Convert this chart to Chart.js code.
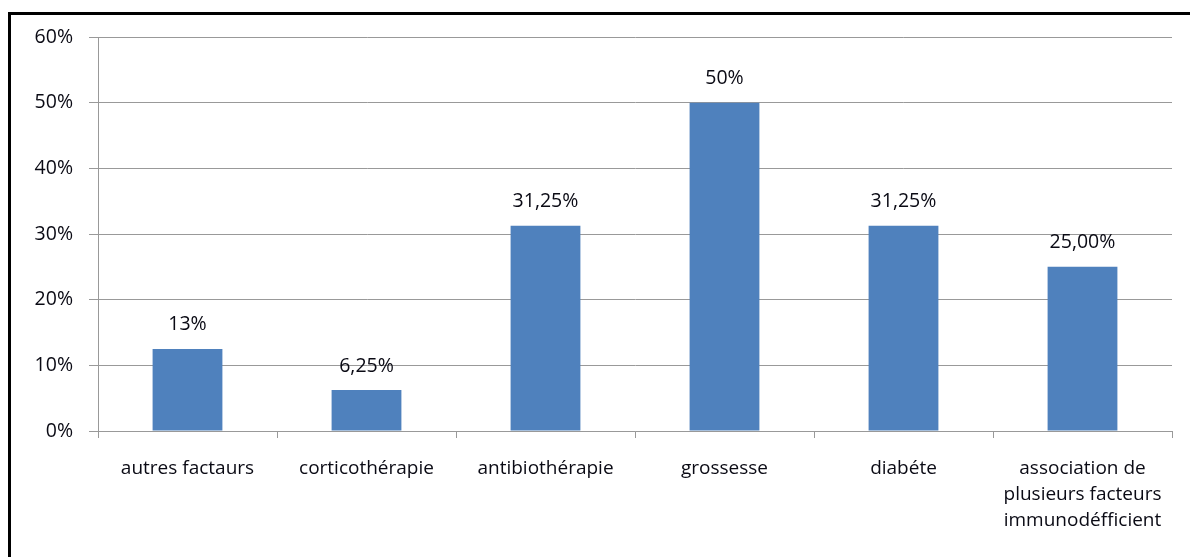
<!DOCTYPE html>
<html>
<head>
<meta charset="utf-8">
<script src="https://cdn.jsdelivr.net/npm/chart.js@4/dist/chart.umd.min.js"></script>
<style>
  html, body { margin: 0; padding: 0; background: #fff; }
  #wrap { position: relative; width: 1190px; height: 557px; overflow: hidden; }
  #frame { position: absolute; left: 8px; top: 12px; width: 1300px; height: 700px;
           border-left: 3px solid #000; border-top: 3px solid #000; box-sizing: border-box; pointer-events: none; }
  canvas { position: absolute; left: 0; top: 0; }
</style>
</head>
<body>
<div id="wrap">
  <canvas id="c" width="1190" height="557"></canvas>
  <div id="frame"></div>
</div>
<script>
const categories = [
  "autres factaurs",
  "corticothérapie",
  "antibiothérapie",
  "grossesse",
  "diabéte",
  ["association de", "plusieurs facteurs", "immunodéfficient"]
];
const values = [12.5, 6.25, 31.25, 50, 31.25, 25];
const valueLabels = ["13%", "6,25%", "31,25%", "50%", "31,25%", "25,00%"];
const yTicks = [0, 10, 20, 30, 40, 50, 60];

const FONT = "'Open Sans', sans-serif";
const TEXT = '#0a0a14';
const GRID = '#999999';

const valueLabelPlugin = {
  id: 'valueLabels',
  afterDatasetsDraw(chart) {
    const ctx = chart.ctx;
    const meta = chart.getDatasetMeta(0);
    ctx.save();
    ctx.font = '19.5px ' + FONT;
    ctx.fillStyle = TEXT;
    ctx.textAlign = 'center';
    ctx.textBaseline = 'middle';
    meta.data.forEach((bar, i) => {
      ctx.fillText(valueLabels[i], bar.x, bar.y - 24);
    });
    ctx.restore();
  }
};

new Chart(document.getElementById('c'), {
  type: 'bar',
  data: {
    labels: categories,
    datasets: [{
      data: values,
      backgroundColor: '#4F81BD',
      borderWidth: 0,
      barPercentage: 0.39,
      categoryPercentage: 1.0
    }]
  },
  options: {
    responsive: false,
    animation: false,
    devicePixelRatio: 1,
    layout: { padding: { left: 0, top: 37, right: 18, bottom: 0 } },
    plugins: { legend: { display: false }, tooltip: { enabled: false } },
    scales: {
      x: {
        offset: true,
        grid: { offset: true, drawOnChartArea: false, drawTicks: true, tickLength: 7, color: GRID, lineWidth: 1 },
        border: { display: true, color: GRID, width: 1 },
        ticks: { color: TEXT, font: { family: FONT, size: 19, lineHeight: 1.38 }, padding: 17, maxRotation: 0, autoSkip: false },
        afterFit(scale) { scale.height = 126; }
      },
      y: {
        min: 0, max: 60,
        afterBuildTicks(scale) { scale.ticks = yTicks.map(v => ({ value: v })); },
        grid: { color: GRID, lineWidth: 1, drawTicks: true, tickLength: 9 },
        border: { display: true, color: GRID, width: 1 },
        ticks: { color: TEXT, font: { family: FONT, size: 19.5 }, padding: 16, callback: v => v + '%' },
        afterFit(scale) { scale.width = 98; }
      }
    }
  },
  plugins: [valueLabelPlugin]
});
</script>
</body>
</html>
